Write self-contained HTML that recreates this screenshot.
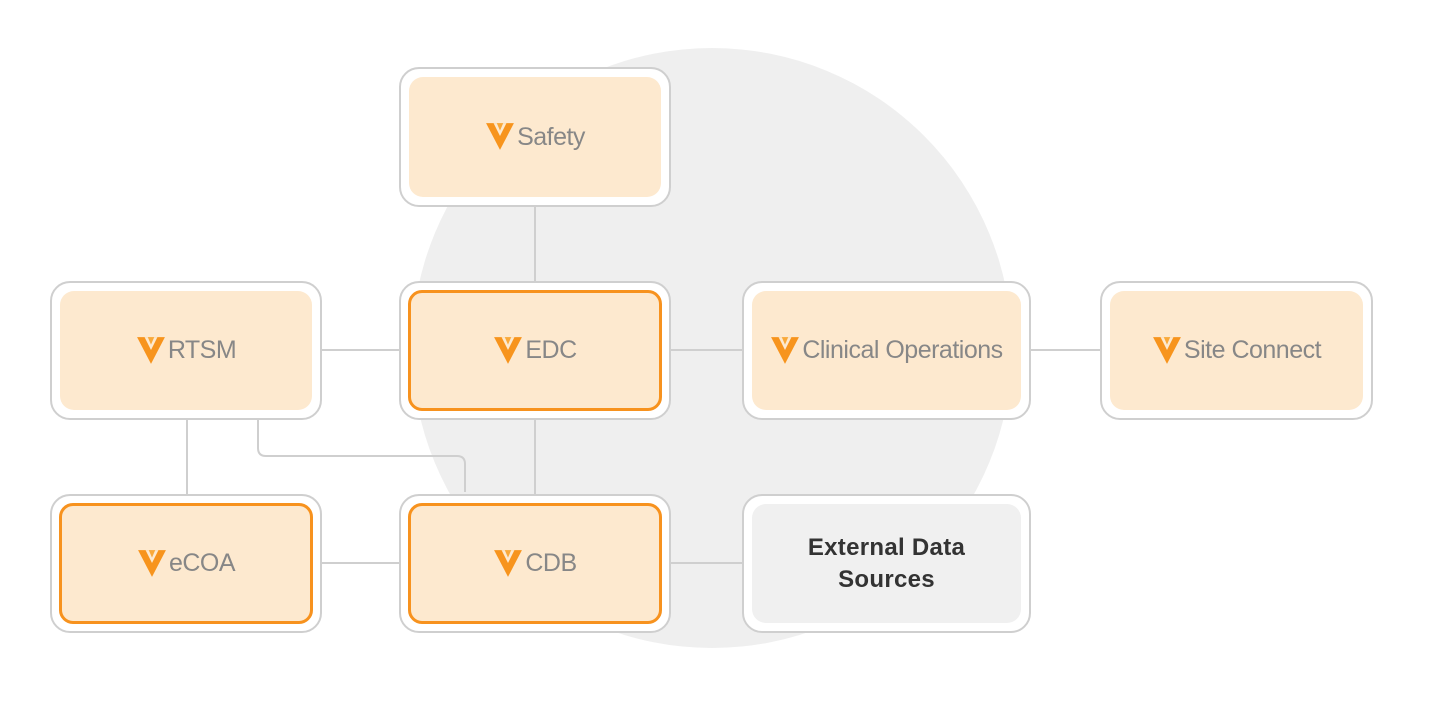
<!DOCTYPE html>
<html><head><style>
body{margin:0;width:1438px;height:702px;background:#fff;position:relative;overflow:hidden;font-family:"Liberation Sans",sans-serif}
.c{position:absolute;left:412px;top:48px;width:600px;height:600px;border-radius:50%;background:#efefef}
.o{position:absolute;box-sizing:border-box;border:2px solid #cfcfcf;border-radius:20px;background:#fff}
.i{position:absolute;left:8px;top:8px;right:8px;bottom:8px;border-radius:14px;background:#fde9cf;display:flex;align-items:center;justify-content:center;color:#878787;font-size:25px;letter-spacing:-0.5px}
.hl{border:3px solid #f7921e;left:7px;top:7px;right:7px;bottom:7px}
.g{background:#f0f0f0;color:#333;font-weight:bold;text-align:center;line-height:32px;letter-spacing:0.3px;font-size:24px}
.l{position:absolute;background:#cfcfcf}
svg{margin-right:2px;margin-top:-2px}
</style></head><body>
<div class="c"></div>
<div class="l" style="left:534px;top:207px;width:2px;height:74px"></div>
<div class="l" style="left:322px;top:349px;width:77px;height:2px"></div>
<div class="l" style="left:671px;top:349px;width:71px;height:2px"></div>
<div class="l" style="left:1031px;top:349px;width:69px;height:2px"></div>
<div class="l" style="left:186px;top:420px;width:2px;height:74px"></div>
<div class="l" style="left:534px;top:420px;width:2px;height:74px"></div>
<div class="l" style="left:322px;top:562px;width:77px;height:2px"></div>
<div class="l" style="left:671px;top:562px;width:71px;height:2px"></div>
<svg style="position:absolute;left:0;top:0" width="1438" height="702"><path d="M258 420 V450 Q258 458 266 458 H457 Q465 458 465 466 V494" fill="none" stroke="#cfcfcf" stroke-width="2"/></svg>

<div class="o" style="left:399px;top:67px;width:272px;height:140px"><div class="i"><svg width="30" height="30" viewBox="0 0 28 28"><path d="M1 2H27L14 27Z" fill="#f7941d"/><path d="M8 2H20L14 14Z" fill="#fde9cf"/><path d="M11 2H17L14 9Z" fill="#f9a93a"/></svg>Safety</div></div>
<div class="o" style="left:50px;top:281px;width:272px;height:139px"><div class="i"><svg width="30" height="30" viewBox="0 0 28 28"><path d="M1 2H27L14 27Z" fill="#f7941d"/><path d="M8 2H20L14 14Z" fill="#fde9cf"/><path d="M11 2H17L14 9Z" fill="#f9a93a"/></svg>RTSM</div></div>
<div class="o" style="left:399px;top:281px;width:272px;height:139px"><div class="i hl"><svg width="30" height="30" viewBox="0 0 28 28"><path d="M1 2H27L14 27Z" fill="#f7941d"/><path d="M8 2H20L14 14Z" fill="#fde9cf"/><path d="M11 2H17L14 9Z" fill="#f9a93a"/></svg>EDC</div></div>
<div class="o" style="left:742px;top:281px;width:289px;height:139px"><div class="i"><svg width="30" height="30" viewBox="0 0 28 28"><path d="M1 2H27L14 27Z" fill="#f7941d"/><path d="M8 2H20L14 14Z" fill="#fde9cf"/><path d="M11 2H17L14 9Z" fill="#f9a93a"/></svg>Clinical Operations</div></div>
<div class="o" style="left:1100px;top:281px;width:273px;height:139px"><div class="i"><svg width="30" height="30" viewBox="0 0 28 28"><path d="M1 2H27L14 27Z" fill="#f7941d"/><path d="M8 2H20L14 14Z" fill="#fde9cf"/><path d="M11 2H17L14 9Z" fill="#f9a93a"/></svg>Site Connect</div></div>
<div class="o" style="left:50px;top:494px;width:272px;height:139px"><div class="i hl"><svg width="30" height="30" viewBox="0 0 28 28"><path d="M1 2H27L14 27Z" fill="#f7941d"/><path d="M8 2H20L14 14Z" fill="#fde9cf"/><path d="M11 2H17L14 9Z" fill="#f9a93a"/></svg>eCOA</div></div>
<div class="o" style="left:399px;top:494px;width:272px;height:139px"><div class="i hl"><svg width="30" height="30" viewBox="0 0 28 28"><path d="M1 2H27L14 27Z" fill="#f7941d"/><path d="M8 2H20L14 14Z" fill="#fde9cf"/><path d="M11 2H17L14 9Z" fill="#f9a93a"/></svg>CDB</div></div>
<div class="o" style="left:742px;top:494px;width:289px;height:139px"><div class="i g">External Data<br>Sources</div></div>
</body></html>
